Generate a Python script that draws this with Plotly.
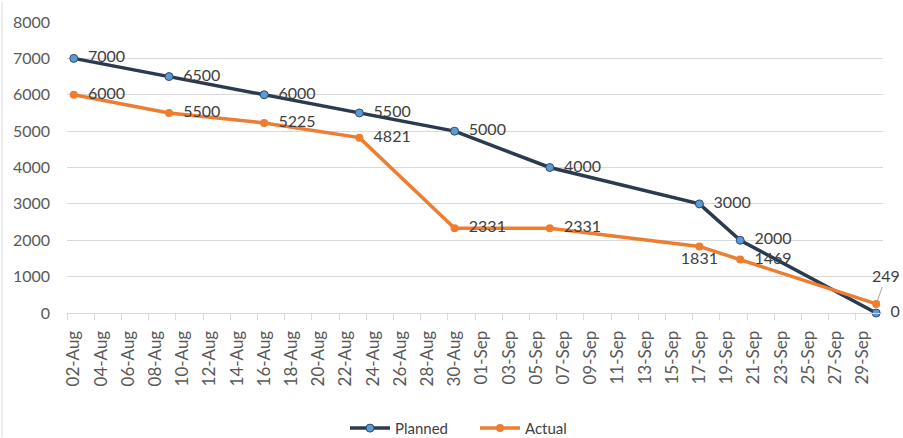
import pandas as pd
import plotly.graph_objects as go

dates = ["2023-08-02", "2023-08-09", "2023-08-16", "2023-08-23", "2023-08-30",
         "2023-09-06", "2023-09-17", "2023-09-20", "2023-09-30"]
planned = [7000, 6500, 6000, 5500, 5000, 4000, 3000, 2000, 0]
actual = [6000, 5500, 5225, 4821, 2331, 2331, 1831, 1469, 249]
actual_label_pos = ["middle right"] * 6 + ["bottom center", "middle right", "top center"]

tick_dates = pd.date_range("2023-08-02", "2023-09-29", freq="2D")
minor_ticks = tick_dates - pd.Timedelta(hours=12)

FONT = "Lato, Liberation Sans, sans-serif"
TXT = "#404040"

fig = go.Figure()
fig.add_trace(go.Scatter(
    x=dates, y=planned, name="Planned", mode="lines+markers+text",
    line=dict(color="#2B3A4F", width=3.5),
    marker=dict(symbol="circle", size=8, color="#5B9BD5", line=dict(color="#2F4A6E", width=1)),
    texttemplate="  %{y}", textposition="middle right",
    textfont=dict(family=FONT, size=16, color=TXT), cliponaxis=False,
))
actual_text = ["  " + str(v) if p == "middle right" else str(v)
               for v, p in zip(actual, actual_label_pos)]
actual_text[-1] = ""
fig.add_trace(go.Scatter(
    x=dates, y=actual, name="Actual", mode="lines+markers+text",
    line=dict(color="#ED7D31", width=3.5),
    marker=dict(symbol="circle", size=8, color="#ED7D31"),
    text=actual_text, textposition=actual_label_pos,
    textfont=dict(family=FONT, size=16, color=TXT), cliponaxis=False,
))
fig.add_annotation(
    x=dates[-1], y=actual[-1], text=str(actual[-1]), showarrow=True,
    arrowhead=0, arrowwidth=1, arrowcolor="#A6A6A6", ax=10, ay=-28, standoff=4,
    font=dict(family=FONT, size=16, color=TXT),
)

fig.update_layout(
    width=903, height=438,
    margin=dict(l=67, r=20, t=20, b=125),
    plot_bgcolor="white", paper_bgcolor="white",
    font=dict(family=FONT, size=15, color="#595959"),
    showlegend=True,
    legend=dict(orientation="h", x=0.5, xanchor="center", yref="container",
                y=0.022, yanchor="middle", entrywidth=75, itemwidth=40,
                font=dict(family=FONT, size=15, color=TXT)),
    xaxis=dict(
        type="date", range=["2023-08-01 12:00", "2023-09-30 12:00"],
        tickmode="array", tickvals=list(tick_dates), tickformat="%d-%b",
        tickangle=-90, ticks="", showgrid=False, showline=True, linecolor="#D9D9D9",
        linewidth=1, ticklabelstandoff=10,
        tickfont=dict(family=FONT, size=17, color="#595959"),
        minor=dict(tickmode="array", tickvals=list(minor_ticks), ticks="outside",
                   ticklen=6, tickcolor="#D9D9D9", showgrid=False),
    ),
    yaxis=dict(
        range=[0, 8000], dtick=1000, showgrid=True, gridcolor="#D9D9D9", gridwidth=1,
        zeroline=False, showline=False, ticks="", ticklabelstandoff=16,
        tickfont=dict(family=FONT, size=16, color="#595959"),
    ),
)
fig.add_shape(type="line", xref="paper", yref="paper", x0=-65/816, x1=-65/816,
              y0=-125/293, y1=1 + 20/293, line=dict(color="#D9D9D9", width=1))

fig.write_html("out.html", config={"displayModeBar": False},
               post_script="document.body.style.margin='0';")
